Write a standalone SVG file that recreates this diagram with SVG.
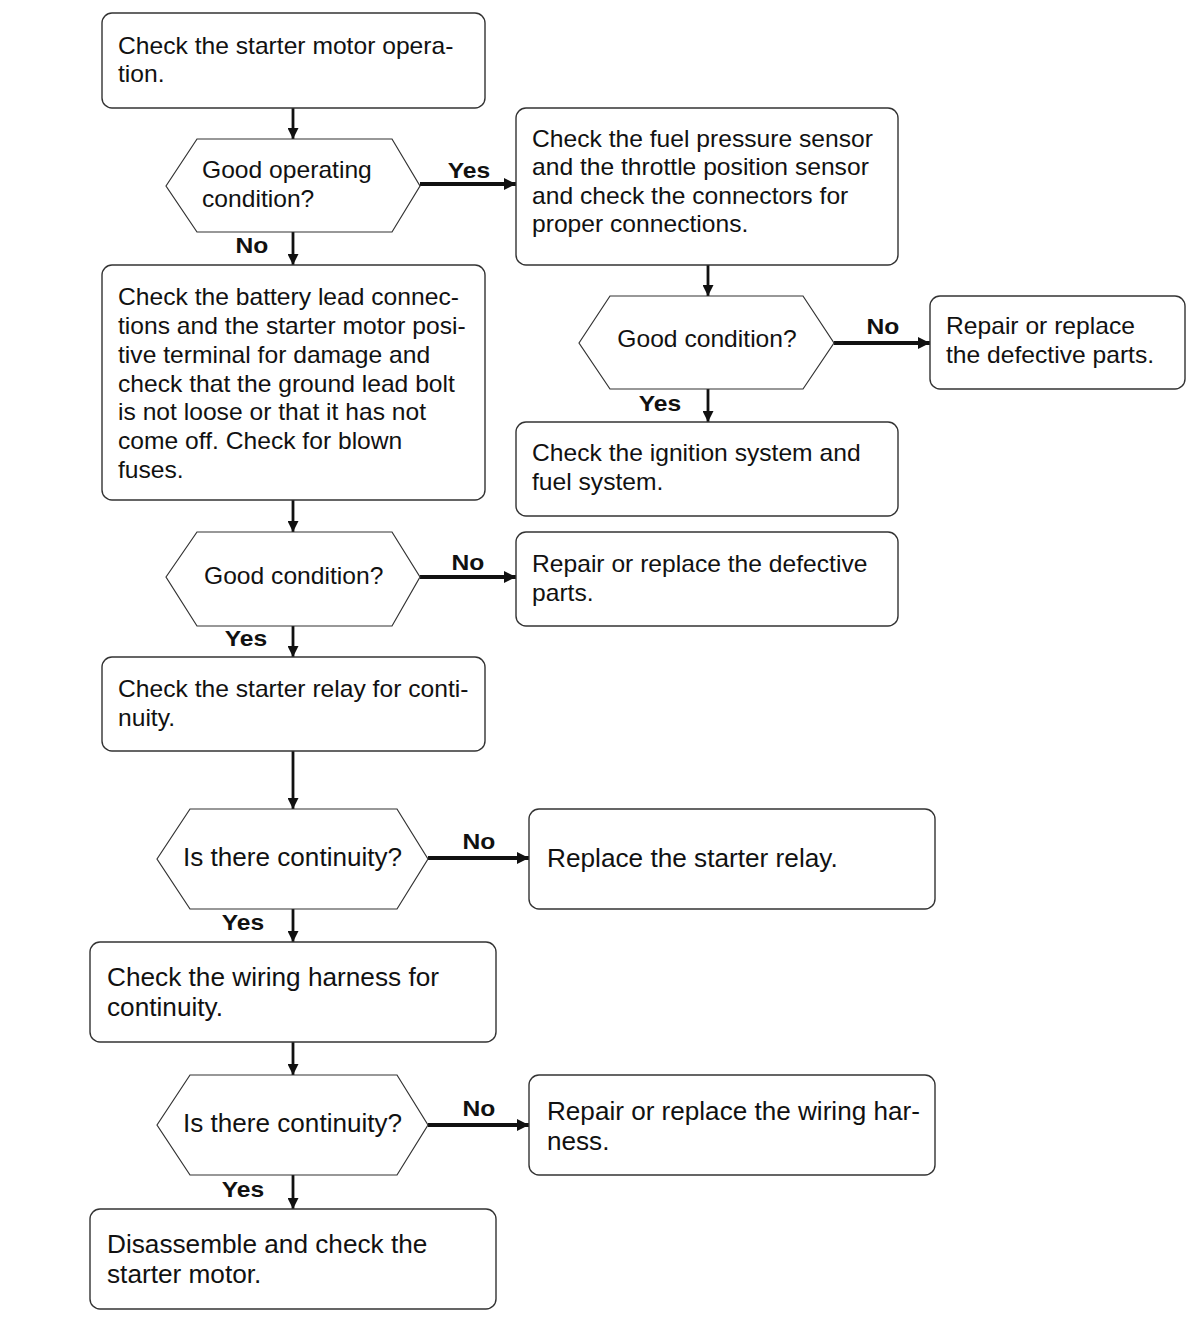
<svg xmlns="http://www.w3.org/2000/svg" width="1202" height="1318" viewBox="0 0 1202 1318">
<style>
.box{fill:#fff;stroke:#333;stroke-width:1.4}
.hex{fill:#fff;stroke:#333;stroke-width:1.2}
text{font-family:"Liberation Sans",Arial,sans-serif;font-size:23px;fill:#111}
.big{font-size:25.5px}
.lb{font-size:22px;font-weight:bold;text-anchor:middle}
.v{stroke:#111;stroke-width:2.8;fill:none}
.h{stroke:#111;stroke-width:4;fill:none}
</style>
<defs>
<marker id="ah" viewBox="0 0 10 10" refX="10" refY="5" markerWidth="11" markerHeight="11" markerUnits="userSpaceOnUse" orient="auto"><path d="M0,0 L10,5 L0,10 z" fill="#111"/></marker>
<marker id="ahh" viewBox="0 0 10 10" refX="10" refY="5" markerWidth="12" markerHeight="12" markerUnits="userSpaceOnUse" orient="auto"><path d="M0,0 L10,5 L0,10 z" fill="#111"/></marker>
</defs>
<g id="connectors">
<path class="v" d="M293,108 V139" marker-end="url(#ah)"/>
<path class="h" d="M420,184 H516" marker-end="url(#ahh)"/>
<path class="v" d="M293,232 V265" marker-end="url(#ah)"/>
<path class="v" d="M293,500 V532" marker-end="url(#ah)"/>
<path class="h" d="M420,577 H516" marker-end="url(#ahh)"/>
<path class="v" d="M293,626 V657" marker-end="url(#ah)"/>
<path class="v" d="M293,751 V809" marker-end="url(#ah)"/>
<path class="h" d="M428,858 H529" marker-end="url(#ahh)"/>
<path class="v" d="M293,909 V942" marker-end="url(#ah)"/>
<path class="v" d="M293,1042 V1075" marker-end="url(#ah)"/>
<path class="h" d="M428,1125 H529" marker-end="url(#ahh)"/>
<path class="v" d="M293,1175 V1209" marker-end="url(#ah)"/>
<path class="v" d="M708,265 V296" marker-end="url(#ah)"/>
<path class="h" d="M834,343 H930" marker-end="url(#ahh)"/>
<path class="v" d="M708,389 V422" marker-end="url(#ah)"/>
<text class="lb" transform="translate(469,178) scale(1.12,1)">Yes</text>
<text class="lb" transform="translate(252,253) scale(1.12,1)">No</text>
<text class="lb" transform="translate(468,570) scale(1.12,1)">No</text>
<text class="lb" transform="translate(246,646) scale(1.12,1)">Yes</text>
<text class="lb" transform="translate(479,849) scale(1.12,1)">No</text>
<text class="lb" transform="translate(243,930) scale(1.12,1)">Yes</text>
<text class="lb" transform="translate(479,1116) scale(1.12,1)">No</text>
<text class="lb" transform="translate(243,1197) scale(1.12,1)">Yes</text>
<text class="lb" transform="translate(883,334) scale(1.12,1)">No</text>
<text class="lb" transform="translate(660,411) scale(1.12,1)">Yes</text>
</g>
<g id="n1"><rect class="box" x="102" y="13" width="383" height="95" rx="10"/>
<g transform="translate(118,0) scale(1.071,1)"><text x="0" y="54">Check the starter motor opera-</text><text x="0" y="82">tion.</text></g></g>
<g id="d1"><polygon class="hex" points="166,186 197,139 392,139 420,186 392,232 197,232"/>
<g transform="translate(202,0) scale(1.071,1)"><text x="0" y="178">Good operating</text><text x="0" y="207">condition?</text></g></g>
<g id="n2"><rect class="box" x="102" y="265" width="383" height="235" rx="10"/>
<g transform="translate(118,0) scale(1.071,1)">
<text x="0" y="305">Check the battery lead connec-</text>
<text x="0" y="334">tions and the starter motor posi-</text>
<text x="0" y="363">tive terminal for damage and</text>
<text x="0" y="392">check that the ground lead bolt</text>
<text x="0" y="420">is not loose or that it has not</text>
<text x="0" y="449">come off. Check for blown</text>
<text x="0" y="478">fuses.</text></g></g>
<g id="d2"><polygon class="hex" points="166,577 197,532 392,532 420,577 392,626 197,626"/>
<g transform="translate(204,0) scale(1.071,1)"><text x="0" y="584">Good condition?</text></g></g>
<g id="n3"><rect class="box" x="102" y="657" width="383" height="94" rx="10"/>
<g transform="translate(118,0) scale(1.071,1)"><text x="0" y="697">Check the starter relay for conti-</text><text x="0" y="726">nuity.</text></g></g>
<g id="d3"><polygon class="hex" points="157,859 190,809 397,809 428,859 397,909 190,909"/>
<g transform="translate(183,0) scale(1.024,1)"><text class="big" x="0" y="866">Is there continuity?</text></g></g>
<g id="n4"><rect class="box" x="90" y="942" width="406" height="100" rx="10"/>
<g transform="translate(107,0) scale(1.028,1)"><text class="big" x="0" y="986">Check the wiring harness for</text><text class="big" x="0" y="1016">continuity.</text></g></g>
<g id="d4"><polygon class="hex" points="157,1125 190,1075 397,1075 428,1125 397,1175 190,1175"/>
<g transform="translate(183,0) scale(1.024,1)"><text class="big" x="0" y="1132">Is there continuity?</text></g></g>
<g id="n5"><rect class="box" x="90" y="1209" width="406" height="100" rx="10"/>
<g transform="translate(107,0) scale(1.028,1)"><text class="big" x="0" y="1253">Disassemble and check the</text><text class="big" x="0" y="1283">starter motor.</text></g></g>
<g id="n6"><rect class="box" x="516" y="108" width="382" height="157" rx="10"/>
<g transform="translate(532,0) scale(1.071,1)">
<text x="0" y="147">Check the fuel pressure sensor</text>
<text x="0" y="175">and the throttle position sensor</text>
<text x="0" y="204">and check the connectors for</text>
<text x="0" y="232">proper connections.</text></g></g>
<g id="d5"><polygon class="hex" points="579,343 610,296 803,296 834,343 803,389 610,389"/>
<g transform="translate(707,0) scale(1.071,1)"><text x="0" y="347" text-anchor="middle">Good condition?</text></g></g>
<g id="n7"><rect class="box" x="930" y="296" width="255" height="93" rx="10"/>
<g transform="translate(946,0) scale(1.071,1)"><text x="0" y="334">Repair or replace</text><text x="0" y="363">the defective parts.</text></g></g>
<g id="n8"><rect class="box" x="516" y="422" width="382" height="94" rx="10"/>
<g transform="translate(532,0) scale(1.071,1)"><text x="0" y="461">Check the ignition system and</text><text x="0" y="490">fuel system.</text></g></g>
<g id="n9"><rect class="box" x="516" y="532" width="382" height="94" rx="10"/>
<g transform="translate(532,0) scale(1.071,1)"><text x="0" y="572">Repair or replace the defective</text><text x="0" y="601">parts.</text></g></g>
<g id="n10"><rect class="box" x="529" y="809" width="406" height="100" rx="10"/>
<g transform="translate(547,0) scale(1.008,1)"><text class="big" x="0" y="867" style="font-size:26px">Replace the starter relay.</text></g></g>
<g id="n11"><rect class="box" x="529" y="1075" width="406" height="100" rx="10"/>
<g transform="translate(547,0) scale(1.024,1)"><text class="big" x="0" y="1120">Repair or replace the wiring har-</text><text class="big" x="0" y="1150">ness.</text></g></g>
</svg>
